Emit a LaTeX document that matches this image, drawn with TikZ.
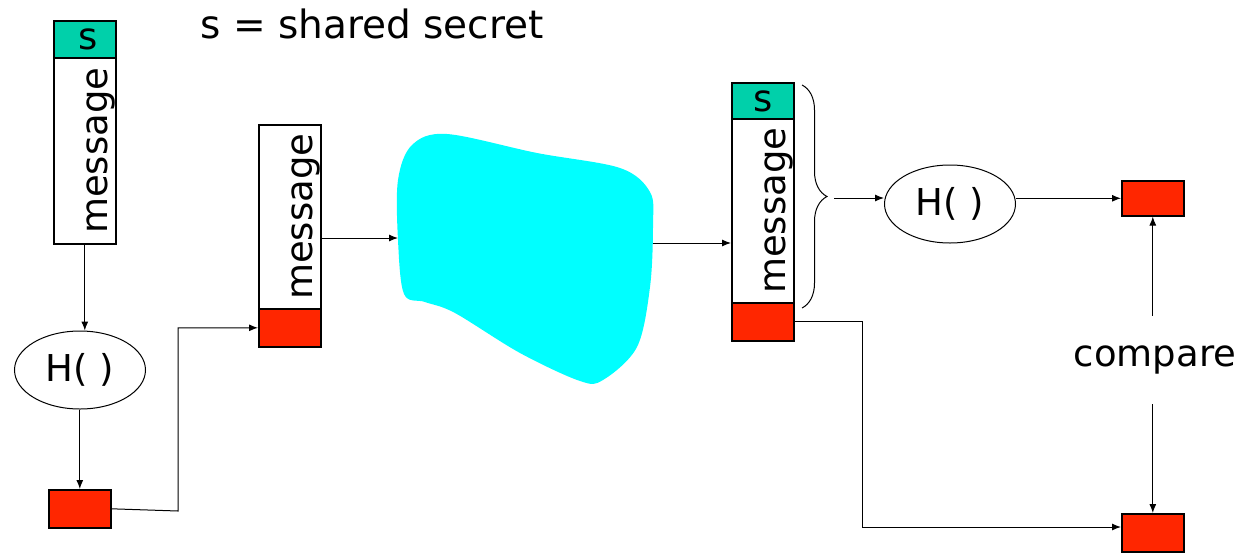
\documentclass[tikz,border=0pt]{standalone}
\usepackage{fontspec}
\setmainfont{DejaVu Sans}
\usetikzlibrary{arrows.meta,shapes.geometric,decorations.pathreplacing}

\definecolor{secretgreen}{RGB}{0,208,170}
\definecolor{hashred}{RGB}{255,38,0}
\definecolor{netcyan}{RGB}{0,255,255}

\tikzset{
  big/.style={font=\fontsize{37}{40}\selectfont},
  part/.style={draw, line width=1.6pt, minimum width=62pt, inner sep=0pt, anchor=north west},
  secret/.style={part, fill=secretgreen, minimum height=37pt, big},
  msg/.style={part, fill=white, minimum height=184pt},
  digest/.style={part, fill=hashred, minimum height=38pt},
  hash/.style={draw, ellipse, line width=1pt, minimum width=131pt, minimum height=78pt, inner sep=0pt, big},
  msgtext/.style={big, rotate=90, inner sep=0pt},
  link/.style={line width=1pt, -{Latex[length=9pt,width=7pt]}},
}

\begin{document}
\begin{tikzpicture}[x=1pt, y=-1pt]
  \useasboundingbox (0,0) rectangle (1239,552);

  \node [big, font=\fontsize{39}{42}\selectfont, anchor=base west] (note) at (197,38) {s = shared secret};

  % sender side
  \node [secret] (sA) at (53,20)  {\hspace{6pt}s};
  \node [msg, minimum height=186pt] (mA) at (53,57) {};
  \node [msgtext] (tA) at ([xshift=16pt]mA.center) {message};
  \node [hash]   (hA) at (80,370) {H( )};
  \node [digest] (rA) at (48,489) {};

  % what is sent
  \node [msg]    (mM) at (258,124) {};
  \node [msgtext] (tM) at ([xshift=16pt]mM.center) {message};
  \node [digest] (rM) at (258,308) {};

  % network
  \fill [netcyan] plot [smooth cycle, tension=0.55] coordinates {
    (447,134) (537,153) (620,168) (650,192) (653,225) (650,287) (637,347)
    (603,380) (580,381) (520,353) (455,313) (425,302) (404,294) (398,240)
    (398,180) (412,145)};
  \coordinate (cIn)  at (398,238);
  \coordinate (cOut) at (653,243);

  % receiver side
  \node [secret] (sR) at (731,82) {s};
  \node [msg]    (mR) at (731,118) {};
  \node [msgtext] (tR) at ([xshift=16pt]mR.center) {message};
  \node [digest] (rR) at (731,302) {};

  \coordinate (bTop) at (802,85);
  \coordinate (bBot) at (802,308);
  \coordinate (bTip) at (834,198);
  \draw [line width=1pt, decorate, decoration={brace, amplitude=25pt}] (bTop) -- (bBot);

  \node [hash]   (hR) at (950,204) {H( )};
  \node [digest, minimum height=35pt] (rT) at (1121,180) {};
  \node [digest] (rB) at (1121,513) {};
  \node [big, inner ysep=30pt] (cmp) at (1155,360) {compare};

  % connectors
  \coordinate (k1) at (178,511);
  \coordinate (k2) at (862,527);
  \draw [link] (mA.south) -- (mA.south |- hA.north);
  \draw [link] (rA.north |- hA.south) -- (rA.north);
  \draw [link] (rA.east) -- (k1) |- (rM.west);
  \draw [link] (mM.east |- cIn) -- (cIn);
  \draw [link] (cOut) -- (mR.west |- cOut);
  \draw [link] (bTip) -- (hR.west |- bTip);
  \draw [link] (hR.east |- rT.west) -- (rT.west);
  \draw [link] (rT.south |- cmp.north) -- (rT.south);
  \draw [link] (rB.north |- cmp.south) -- (rB.north);
  \draw [link] (rR.east) -| (k2) -- (rB.west |- k2);
\end{tikzpicture}
\end{document}
